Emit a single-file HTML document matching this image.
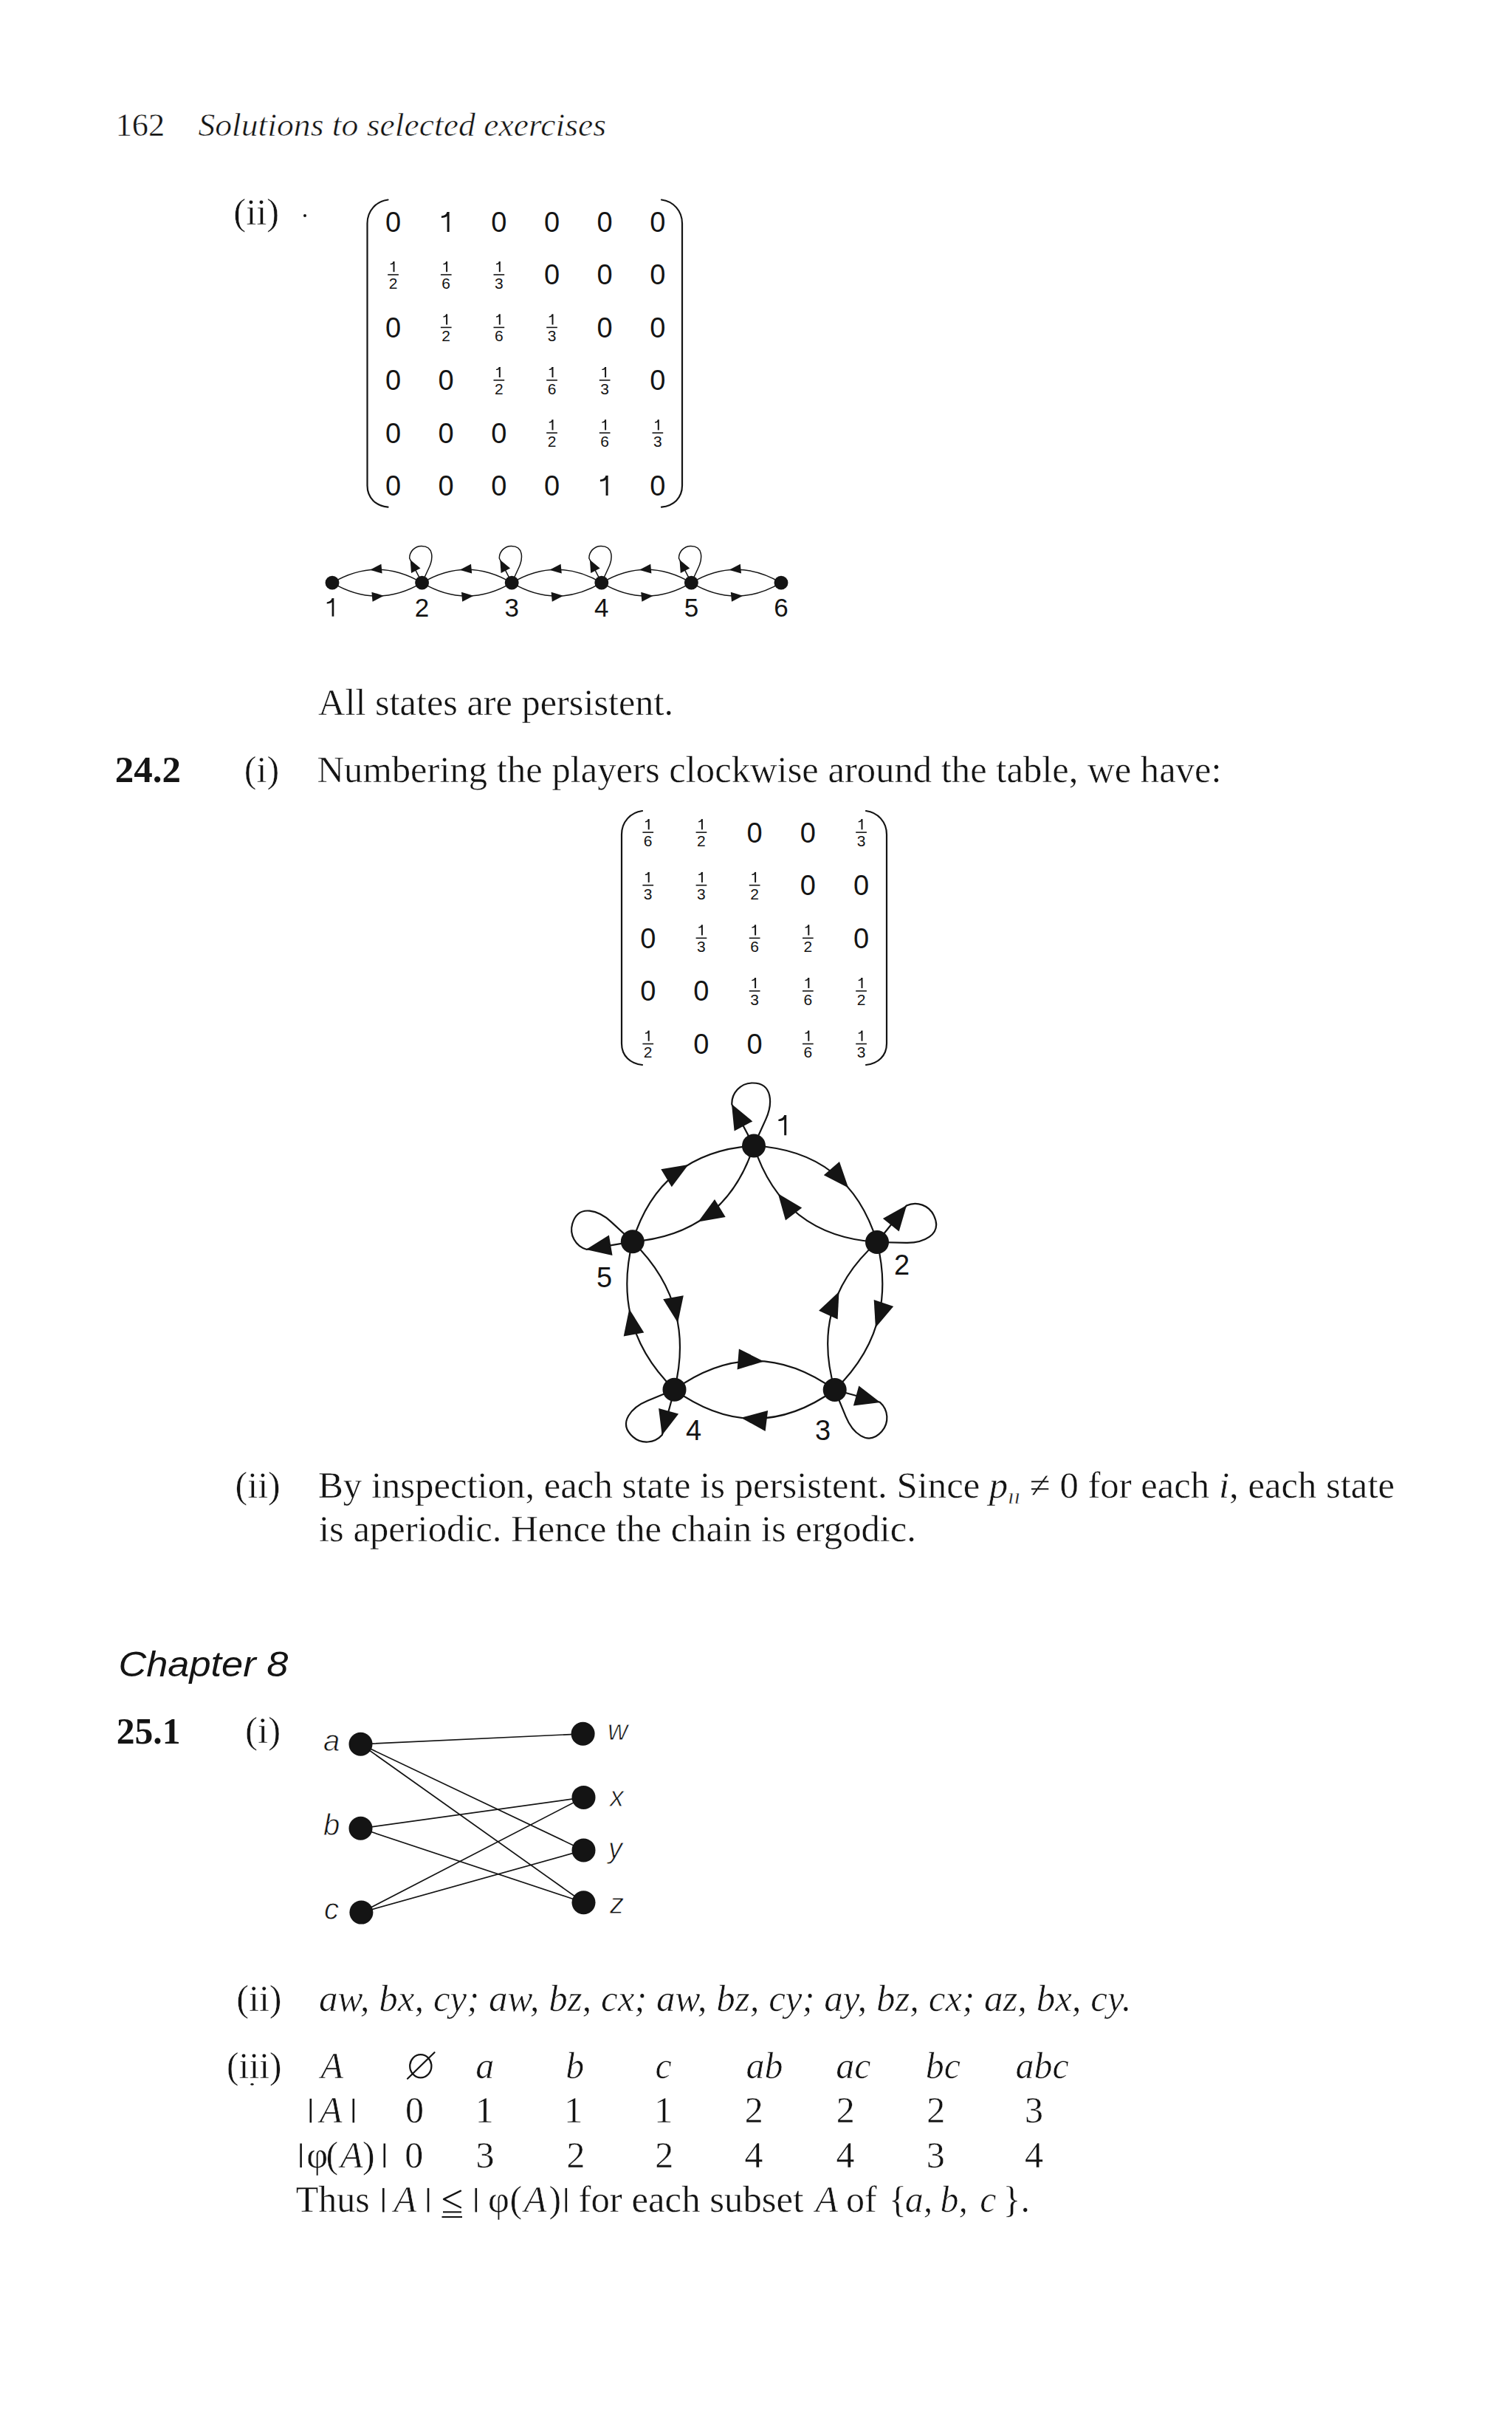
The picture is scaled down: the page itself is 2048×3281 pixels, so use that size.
<!DOCTYPE html>
<html><head><meta charset="utf-8"><title>Solutions to selected exercises</title>
<style>html,body{margin:0;padding:0;background:#fff;overflow:hidden;} svg{display:block;}</style></head>
<body><svg width="2048" height="3281" viewBox="0 0 2048 3281" fill="#141414">
<rect width="2048" height="3281" fill="#ffffff"/>
<text x="156.7" y="184" font-family="Liberation Serif" font-size="45" textLength="66.4" lengthAdjust="spacingAndGlyphs" stroke="#fff" stroke-width="0.45">162</text>
<text x="268.4" y="184" font-family="Liberation Serif" font-size="45" font-style="italic" textLength="552.6" lengthAdjust="spacingAndGlyphs" stroke="#fff" stroke-width="0.6">Solutions to selected exercises</text>
<text x="316.3" y="304" font-family="Liberation Serif" font-size="50" textLength="61.9" lengthAdjust="spacingAndGlyphs" stroke="#fff" stroke-width="0.45">(ii)</text>
<circle cx="413.0" cy="292.0" r="2" fill="#141414"/>
<text x="532.5" y="314.0" font-family="Liberation Sans" font-size="38" text-anchor="middle">0</text>
<rect x="605.6" y="287.0" width="3.0" height="27.0" fill="#141414"/>
<path d="M608.6,287.0 L605.6,287.0 C604.5,290.6 601.6,292.0 597.9,292.6 L597.9,295.0 C601.9,294.8 604.4,294.0 605.6,292.8 Z" fill="#141414"/>
<text x="675.8" y="314.0" font-family="Liberation Sans" font-size="38" text-anchor="middle">0</text>
<text x="747.5" y="314.0" font-family="Liberation Sans" font-size="38" text-anchor="middle">0</text>
<text x="819.1" y="314.0" font-family="Liberation Sans" font-size="38" text-anchor="middle">0</text>
<text x="890.8" y="314.0" font-family="Liberation Sans" font-size="38" text-anchor="middle">0</text>
<rect x="532.5" y="354.2" width="2.0" height="14.0" fill="#141414"/>
<path d="M534.5,354.2 L532.5,354.2 C532.2,356.1 530.6,356.8 528.7,357.1 L528.7,358.3 C530.8,358.2 532.0,357.8 532.5,357.2 Z" fill="#141414"/>
<rect x="525.2" y="371.2" width="14.7" height="1.6" fill="#141414"/>
<text x="532.5" y="390.8" font-family="Liberation Sans" font-size="21" text-anchor="middle">2</text>
<rect x="604.1" y="354.2" width="2.0" height="14.0" fill="#141414"/>
<path d="M606.1,354.2 L604.1,354.2 C603.8,356.1 602.3,356.8 600.4,357.1 L600.4,358.3 C602.5,358.2 603.7,357.8 604.1,357.2 Z" fill="#141414"/>
<rect x="596.9" y="371.2" width="14.7" height="1.6" fill="#141414"/>
<text x="604.1" y="390.8" font-family="Liberation Sans" font-size="21" text-anchor="middle">6</text>
<rect x="675.8" y="354.2" width="2.0" height="14.0" fill="#141414"/>
<path d="M677.8,354.2 L675.8,354.2 C675.5,356.1 673.9,356.8 672.0,357.1 L672.0,358.3 C674.1,358.2 675.3,357.8 675.8,357.2 Z" fill="#141414"/>
<rect x="668.5" y="371.2" width="14.7" height="1.6" fill="#141414"/>
<text x="675.8" y="390.8" font-family="Liberation Sans" font-size="21" text-anchor="middle">3</text>
<text x="747.5" y="385.4" font-family="Liberation Sans" font-size="38" text-anchor="middle">0</text>
<text x="819.1" y="385.4" font-family="Liberation Sans" font-size="38" text-anchor="middle">0</text>
<text x="890.8" y="385.4" font-family="Liberation Sans" font-size="38" text-anchor="middle">0</text>
<text x="532.5" y="456.8" font-family="Liberation Sans" font-size="38" text-anchor="middle">0</text>
<rect x="604.1" y="425.6" width="2.0" height="14.0" fill="#141414"/>
<path d="M606.1,425.6 L604.1,425.6 C603.8,427.5 602.3,428.2 600.4,428.5 L600.4,429.7 C602.5,429.6 603.7,429.2 604.1,428.6 Z" fill="#141414"/>
<rect x="596.9" y="442.6" width="14.7" height="1.6" fill="#141414"/>
<text x="604.1" y="462.2" font-family="Liberation Sans" font-size="21" text-anchor="middle">2</text>
<rect x="675.8" y="425.6" width="2.0" height="14.0" fill="#141414"/>
<path d="M677.8,425.6 L675.8,425.6 C675.5,427.5 673.9,428.2 672.0,428.5 L672.0,429.7 C674.1,429.6 675.3,429.2 675.8,428.6 Z" fill="#141414"/>
<rect x="668.5" y="442.6" width="14.7" height="1.6" fill="#141414"/>
<text x="675.8" y="462.2" font-family="Liberation Sans" font-size="21" text-anchor="middle">6</text>
<rect x="747.5" y="425.6" width="2.0" height="14.0" fill="#141414"/>
<path d="M749.5,425.6 L747.5,425.6 C747.1,427.5 745.6,428.2 743.7,428.5 L743.7,429.7 C745.8,429.6 747.0,429.2 747.5,428.6 Z" fill="#141414"/>
<rect x="740.2" y="442.6" width="14.7" height="1.6" fill="#141414"/>
<text x="747.5" y="462.2" font-family="Liberation Sans" font-size="21" text-anchor="middle">3</text>
<text x="819.1" y="456.8" font-family="Liberation Sans" font-size="38" text-anchor="middle">0</text>
<text x="890.8" y="456.8" font-family="Liberation Sans" font-size="38" text-anchor="middle">0</text>
<text x="532.5" y="528.2" font-family="Liberation Sans" font-size="38" text-anchor="middle">0</text>
<text x="604.1" y="528.2" font-family="Liberation Sans" font-size="38" text-anchor="middle">0</text>
<rect x="675.8" y="497.0" width="2.0" height="14.0" fill="#141414"/>
<path d="M677.8,497.0 L675.8,497.0 C675.5,498.9 673.9,499.6 672.0,499.9 L672.0,501.1 C674.1,501.0 675.3,500.6 675.8,500.0 Z" fill="#141414"/>
<rect x="668.5" y="514.0" width="14.7" height="1.6" fill="#141414"/>
<text x="675.8" y="533.6" font-family="Liberation Sans" font-size="21" text-anchor="middle">2</text>
<rect x="747.5" y="497.0" width="2.0" height="14.0" fill="#141414"/>
<path d="M749.5,497.0 L747.5,497.0 C747.1,498.9 745.6,499.6 743.7,499.9 L743.7,501.1 C745.8,501.0 747.0,500.6 747.5,500.0 Z" fill="#141414"/>
<rect x="740.2" y="514.0" width="14.7" height="1.6" fill="#141414"/>
<text x="747.5" y="533.6" font-family="Liberation Sans" font-size="21" text-anchor="middle">6</text>
<rect x="819.1" y="497.0" width="2.0" height="14.0" fill="#141414"/>
<path d="M821.1,497.0 L819.1,497.0 C818.8,498.9 817.2,499.6 815.3,499.9 L815.3,501.1 C817.4,501.0 818.6,500.6 819.1,500.0 Z" fill="#141414"/>
<rect x="811.8" y="514.0" width="14.7" height="1.6" fill="#141414"/>
<text x="819.1" y="533.6" font-family="Liberation Sans" font-size="21" text-anchor="middle">3</text>
<text x="890.8" y="528.2" font-family="Liberation Sans" font-size="38" text-anchor="middle">0</text>
<text x="532.5" y="599.6" font-family="Liberation Sans" font-size="38" text-anchor="middle">0</text>
<text x="604.1" y="599.6" font-family="Liberation Sans" font-size="38" text-anchor="middle">0</text>
<text x="675.8" y="599.6" font-family="Liberation Sans" font-size="38" text-anchor="middle">0</text>
<rect x="747.5" y="568.4" width="2.0" height="14.0" fill="#141414"/>
<path d="M749.5,568.4 L747.5,568.4 C747.1,570.3 745.6,571.0 743.7,571.3 L743.7,572.5 C745.8,572.4 747.0,572.0 747.5,571.4 Z" fill="#141414"/>
<rect x="740.2" y="585.4" width="14.7" height="1.6" fill="#141414"/>
<text x="747.5" y="605.0" font-family="Liberation Sans" font-size="21" text-anchor="middle">2</text>
<rect x="819.1" y="568.4" width="2.0" height="14.0" fill="#141414"/>
<path d="M821.1,568.4 L819.1,568.4 C818.8,570.3 817.2,571.0 815.3,571.3 L815.3,572.5 C817.4,572.4 818.6,572.0 819.1,571.4 Z" fill="#141414"/>
<rect x="811.8" y="585.4" width="14.7" height="1.6" fill="#141414"/>
<text x="819.1" y="605.0" font-family="Liberation Sans" font-size="21" text-anchor="middle">6</text>
<rect x="890.8" y="568.4" width="2.0" height="14.0" fill="#141414"/>
<path d="M892.8,568.4 L890.8,568.4 C890.4,570.3 888.9,571.0 887.0,571.3 L887.0,572.5 C889.1,572.4 890.3,572.0 890.8,571.4 Z" fill="#141414"/>
<rect x="883.5" y="585.4" width="14.7" height="1.6" fill="#141414"/>
<text x="890.8" y="605.0" font-family="Liberation Sans" font-size="21" text-anchor="middle">3</text>
<text x="532.5" y="671.0" font-family="Liberation Sans" font-size="38" text-anchor="middle">0</text>
<text x="604.1" y="671.0" font-family="Liberation Sans" font-size="38" text-anchor="middle">0</text>
<text x="675.8" y="671.0" font-family="Liberation Sans" font-size="38" text-anchor="middle">0</text>
<text x="747.5" y="671.0" font-family="Liberation Sans" font-size="38" text-anchor="middle">0</text>
<rect x="820.6" y="644.0" width="3.0" height="27.0" fill="#141414"/>
<path d="M823.6,644.0 L820.6,644.0 C819.5,647.6 816.6,649.0 812.9,649.6 L812.9,652.0 C816.9,651.8 819.3,651.0 820.6,649.8 Z" fill="#141414"/>
<text x="890.8" y="671.0" font-family="Liberation Sans" font-size="38" text-anchor="middle">0</text>
<path d="M525.5,270.5 C509.5,272.5 497.5,285.5 497.5,302.5 L497.5,657.6 C497.5,674.6 509.5,685.1 525.5,686.6" stroke="#141414" stroke-width="2.2" fill="none" stroke-linecap="round" stroke-linejoin="round"/>
<path d="M896,270.5 C912,272.5 924,285.5 924,302.5 L924,657.6 C924,674.6 912,685.1 896,686.6" stroke="#141414" stroke-width="2.2" fill="none" stroke-linecap="round" stroke-linejoin="round"/>
<path d="M571.6,789.2 Q510.8,753.2 450.0,789.2" stroke="#141414" stroke-width="1.5" fill="none" stroke-linecap="round" stroke-linejoin="round"/>
<path d="M501.1,771.7 L516.4,763.7 L517.6,776.6 Z" fill="#141414"/>
<path d="M450.0,789.2 Q510.8,825.2 571.6,789.2" stroke="#141414" stroke-width="1.5" fill="none" stroke-linecap="round" stroke-linejoin="round"/>
<path d="M519.9,806.8 L504.6,814.7 L503.4,801.7 Z" fill="#141414"/>
<path d="M693.2,789.2 Q632.4,753.2 571.6,789.2" stroke="#141414" stroke-width="1.5" fill="none" stroke-linecap="round" stroke-linejoin="round"/>
<path d="M622.7,771.7 L638.0,763.7 L639.2,776.6 Z" fill="#141414"/>
<path d="M571.6,789.2 Q632.4,825.2 693.2,789.2" stroke="#141414" stroke-width="1.5" fill="none" stroke-linecap="round" stroke-linejoin="round"/>
<path d="M641.5,806.8 L626.2,814.7 L625.0,801.7 Z" fill="#141414"/>
<path d="M814.8,789.2 Q754.0,753.2 693.2,789.2" stroke="#141414" stroke-width="1.5" fill="none" stroke-linecap="round" stroke-linejoin="round"/>
<path d="M744.3,771.7 L759.6,763.7 L760.8,776.6 Z" fill="#141414"/>
<path d="M693.2,789.2 Q754.0,825.2 814.8,789.2" stroke="#141414" stroke-width="1.5" fill="none" stroke-linecap="round" stroke-linejoin="round"/>
<path d="M763.1,806.8 L747.8,814.7 L746.6,801.7 Z" fill="#141414"/>
<path d="M936.4,789.2 Q875.6,753.2 814.8,789.2" stroke="#141414" stroke-width="1.5" fill="none" stroke-linecap="round" stroke-linejoin="round"/>
<path d="M865.9,771.7 L881.2,763.7 L882.4,776.6 Z" fill="#141414"/>
<path d="M814.8,789.2 Q875.6,825.2 936.4,789.2" stroke="#141414" stroke-width="1.5" fill="none" stroke-linecap="round" stroke-linejoin="round"/>
<path d="M884.7,806.8 L869.4,814.7 L868.2,801.7 Z" fill="#141414"/>
<path d="M1058.0,789.2 Q997.2,753.2 936.4,789.2" stroke="#141414" stroke-width="1.5" fill="none" stroke-linecap="round" stroke-linejoin="round"/>
<path d="M987.5,771.7 L1002.8,763.7 L1004.0,776.6 Z" fill="#141414"/>
<path d="M936.4,789.2 Q997.2,825.2 1058.0,789.2" stroke="#141414" stroke-width="1.5" fill="none" stroke-linecap="round" stroke-linejoin="round"/>
<path d="M1006.3,806.8 L991.0,814.7 L989.8,801.7 Z" fill="#141414"/>
<path d="M571.6,789.2 L554.7,756.0 A16.3,16.3 0 0 1 570.7,739.4 C587.8,739.1 586.7,756.7 581.3,768.3 L571.6,789.2" stroke="#141414" stroke-width="1.5" fill="none" stroke-linecap="round" stroke-linejoin="round"/>
<path d="M555.7,758.0 L569.5,769.5 L557.0,775.9 Z" fill="#141414"/>
<path d="M693.2,789.2 L676.3,756.0 A16.3,16.3 0 0 1 692.3,739.4 C709.4,739.1 708.3,756.7 702.9,768.3 L693.2,789.2" stroke="#141414" stroke-width="1.5" fill="none" stroke-linecap="round" stroke-linejoin="round"/>
<path d="M677.3,758.0 L691.1,769.5 L678.6,775.9 Z" fill="#141414"/>
<path d="M814.8,789.2 L797.9,756.0 A16.3,16.3 0 0 1 813.9,739.4 C831.0,739.1 829.9,756.7 824.5,768.3 L814.8,789.2" stroke="#141414" stroke-width="1.5" fill="none" stroke-linecap="round" stroke-linejoin="round"/>
<path d="M798.9,758.0 L812.7,769.5 L800.2,775.9 Z" fill="#141414"/>
<path d="M936.4,789.2 L919.5,756.0 A16.3,16.3 0 0 1 935.5,739.4 C952.6,739.1 951.5,756.7 946.1,768.3 L936.4,789.2" stroke="#141414" stroke-width="1.5" fill="none" stroke-linecap="round" stroke-linejoin="round"/>
<path d="M920.5,758.0 L934.3,769.5 L921.8,775.9 Z" fill="#141414"/>
<circle cx="450.0" cy="789.2" r="9.4" fill="#141414"/>
<circle cx="571.6" cy="789.2" r="9.4" fill="#141414"/>
<circle cx="693.2" cy="789.2" r="9.4" fill="#141414"/>
<circle cx="814.8" cy="789.2" r="9.4" fill="#141414"/>
<circle cx="936.4" cy="789.2" r="9.4" fill="#141414"/>
<circle cx="1058.0" cy="789.2" r="9.4" fill="#141414"/>
<rect x="449.6" y="810.3" width="2.7" height="24.4" fill="#141414"/>
<path d="M452.4,810.3 L449.6,810.3 C448.7,813.6 446.0,814.8 442.7,815.4 L442.7,817.5 C446.3,817.3 448.5,816.6 449.6,815.5 Z" fill="#141414"/>
<text x="571.6" y="835" font-family="Liberation Sans" font-size="35" text-anchor="middle">2</text>
<text x="693.2" y="835" font-family="Liberation Sans" font-size="35" text-anchor="middle">3</text>
<text x="814.8" y="835" font-family="Liberation Sans" font-size="35" text-anchor="middle">4</text>
<text x="936.4" y="835" font-family="Liberation Sans" font-size="35" text-anchor="middle">5</text>
<text x="1058.0" y="835" font-family="Liberation Sans" font-size="35" text-anchor="middle">6</text>
<text x="431.1" y="968" font-family="Liberation Serif" font-size="50" textLength="481.0" lengthAdjust="spacingAndGlyphs" stroke="#fff" stroke-width="0.45">All states are persistent.</text>
<text x="155.8" y="1058.5" font-family="Liberation Serif" font-size="50" font-weight="bold" textLength="89.3" lengthAdjust="spacingAndGlyphs">24.2</text>
<text x="330.7" y="1058.5" font-family="Liberation Serif" font-size="50" textLength="47.5" lengthAdjust="spacingAndGlyphs" stroke="#fff" stroke-width="0.45">(i)</text>
<text x="429.5" y="1058.5" font-family="Liberation Serif" font-size="50" textLength="1225.0" lengthAdjust="spacingAndGlyphs" stroke="#fff" stroke-width="0.45">Numbering the players clockwise around the table, we have:</text>
<rect x="877.7" y="1109.3" width="2.0" height="14.0" fill="#141414"/>
<path d="M879.7,1109.3 L877.7,1109.3 C877.4,1111.2 875.8,1111.9 873.9,1112.2 L873.9,1113.4 C876.0,1113.3 877.2,1112.9 877.7,1112.3 Z" fill="#141414"/>
<rect x="870.4" y="1126.3" width="14.7" height="1.6" fill="#141414"/>
<text x="877.7" y="1145.9" font-family="Liberation Sans" font-size="21" text-anchor="middle">6</text>
<rect x="949.9" y="1109.3" width="2.0" height="14.0" fill="#141414"/>
<path d="M951.9,1109.3 L949.9,1109.3 C949.6,1111.2 948.0,1111.9 946.1,1112.2 L946.1,1113.4 C948.2,1113.3 949.4,1112.9 949.9,1112.3 Z" fill="#141414"/>
<rect x="942.6" y="1126.3" width="14.7" height="1.6" fill="#141414"/>
<text x="949.9" y="1145.9" font-family="Liberation Sans" font-size="21" text-anchor="middle">2</text>
<text x="1022.1" y="1140.5" font-family="Liberation Sans" font-size="38" text-anchor="middle">0</text>
<text x="1094.3" y="1140.5" font-family="Liberation Sans" font-size="38" text-anchor="middle">0</text>
<rect x="1166.5" y="1109.3" width="2.0" height="14.0" fill="#141414"/>
<path d="M1168.5,1109.3 L1166.5,1109.3 C1166.2,1111.2 1164.6,1111.9 1162.7,1112.2 L1162.7,1113.4 C1164.8,1113.3 1166.0,1112.9 1166.5,1112.3 Z" fill="#141414"/>
<rect x="1159.2" y="1126.3" width="14.7" height="1.6" fill="#141414"/>
<text x="1166.5" y="1145.9" font-family="Liberation Sans" font-size="21" text-anchor="middle">3</text>
<rect x="877.7" y="1180.9" width="2.0" height="14.0" fill="#141414"/>
<path d="M879.7,1180.9 L877.7,1180.9 C877.4,1182.8 875.8,1183.5 873.9,1183.8 L873.9,1185.0 C876.0,1184.9 877.2,1184.5 877.7,1183.9 Z" fill="#141414"/>
<rect x="870.4" y="1197.9" width="14.7" height="1.6" fill="#141414"/>
<text x="877.7" y="1217.5" font-family="Liberation Sans" font-size="21" text-anchor="middle">3</text>
<rect x="949.9" y="1180.9" width="2.0" height="14.0" fill="#141414"/>
<path d="M951.9,1180.9 L949.9,1180.9 C949.6,1182.8 948.0,1183.5 946.1,1183.8 L946.1,1185.0 C948.2,1184.9 949.4,1184.5 949.9,1183.9 Z" fill="#141414"/>
<rect x="942.6" y="1197.9" width="14.7" height="1.6" fill="#141414"/>
<text x="949.9" y="1217.5" font-family="Liberation Sans" font-size="21" text-anchor="middle">3</text>
<rect x="1022.1" y="1180.9" width="2.0" height="14.0" fill="#141414"/>
<path d="M1024.1,1180.9 L1022.1,1180.9 C1021.8,1182.8 1020.2,1183.5 1018.3,1183.8 L1018.3,1185.0 C1020.4,1184.9 1021.6,1184.5 1022.1,1183.9 Z" fill="#141414"/>
<rect x="1014.8" y="1197.9" width="14.7" height="1.6" fill="#141414"/>
<text x="1022.1" y="1217.5" font-family="Liberation Sans" font-size="21" text-anchor="middle">2</text>
<text x="1094.3" y="1212.1" font-family="Liberation Sans" font-size="38" text-anchor="middle">0</text>
<text x="1166.5" y="1212.1" font-family="Liberation Sans" font-size="38" text-anchor="middle">0</text>
<text x="877.7" y="1283.7" font-family="Liberation Sans" font-size="38" text-anchor="middle">0</text>
<rect x="949.9" y="1252.5" width="2.0" height="14.0" fill="#141414"/>
<path d="M951.9,1252.5 L949.9,1252.5 C949.6,1254.4 948.0,1255.1 946.1,1255.4 L946.1,1256.6 C948.2,1256.5 949.4,1256.1 949.9,1255.5 Z" fill="#141414"/>
<rect x="942.6" y="1269.5" width="14.7" height="1.6" fill="#141414"/>
<text x="949.9" y="1289.1" font-family="Liberation Sans" font-size="21" text-anchor="middle">3</text>
<rect x="1022.1" y="1252.5" width="2.0" height="14.0" fill="#141414"/>
<path d="M1024.1,1252.5 L1022.1,1252.5 C1021.8,1254.4 1020.2,1255.1 1018.3,1255.4 L1018.3,1256.6 C1020.4,1256.5 1021.6,1256.1 1022.1,1255.5 Z" fill="#141414"/>
<rect x="1014.8" y="1269.5" width="14.7" height="1.6" fill="#141414"/>
<text x="1022.1" y="1289.1" font-family="Liberation Sans" font-size="21" text-anchor="middle">6</text>
<rect x="1094.3" y="1252.5" width="2.0" height="14.0" fill="#141414"/>
<path d="M1096.3,1252.5 L1094.3,1252.5 C1094.0,1254.4 1092.4,1255.1 1090.5,1255.4 L1090.5,1256.6 C1092.6,1256.5 1093.8,1256.1 1094.3,1255.5 Z" fill="#141414"/>
<rect x="1087.0" y="1269.5" width="14.7" height="1.6" fill="#141414"/>
<text x="1094.3" y="1289.1" font-family="Liberation Sans" font-size="21" text-anchor="middle">2</text>
<text x="1166.5" y="1283.7" font-family="Liberation Sans" font-size="38" text-anchor="middle">0</text>
<text x="877.7" y="1355.3" font-family="Liberation Sans" font-size="38" text-anchor="middle">0</text>
<text x="949.9" y="1355.3" font-family="Liberation Sans" font-size="38" text-anchor="middle">0</text>
<rect x="1022.1" y="1324.1" width="2.0" height="14.0" fill="#141414"/>
<path d="M1024.1,1324.1 L1022.1,1324.1 C1021.8,1326.0 1020.2,1326.7 1018.3,1327.0 L1018.3,1328.2 C1020.4,1328.1 1021.6,1327.7 1022.1,1327.1 Z" fill="#141414"/>
<rect x="1014.8" y="1341.1" width="14.7" height="1.6" fill="#141414"/>
<text x="1022.1" y="1360.7" font-family="Liberation Sans" font-size="21" text-anchor="middle">3</text>
<rect x="1094.3" y="1324.1" width="2.0" height="14.0" fill="#141414"/>
<path d="M1096.3,1324.1 L1094.3,1324.1 C1094.0,1326.0 1092.4,1326.7 1090.5,1327.0 L1090.5,1328.2 C1092.6,1328.1 1093.8,1327.7 1094.3,1327.1 Z" fill="#141414"/>
<rect x="1087.0" y="1341.1" width="14.7" height="1.6" fill="#141414"/>
<text x="1094.3" y="1360.7" font-family="Liberation Sans" font-size="21" text-anchor="middle">6</text>
<rect x="1166.5" y="1324.1" width="2.0" height="14.0" fill="#141414"/>
<path d="M1168.5,1324.1 L1166.5,1324.1 C1166.2,1326.0 1164.6,1326.7 1162.7,1327.0 L1162.7,1328.2 C1164.8,1328.1 1166.0,1327.7 1166.5,1327.1 Z" fill="#141414"/>
<rect x="1159.2" y="1341.1" width="14.7" height="1.6" fill="#141414"/>
<text x="1166.5" y="1360.7" font-family="Liberation Sans" font-size="21" text-anchor="middle">2</text>
<rect x="877.7" y="1395.7" width="2.0" height="14.0" fill="#141414"/>
<path d="M879.7,1395.7 L877.7,1395.7 C877.4,1397.6 875.8,1398.3 873.9,1398.6 L873.9,1399.8 C876.0,1399.7 877.2,1399.3 877.7,1398.7 Z" fill="#141414"/>
<rect x="870.4" y="1412.7" width="14.7" height="1.6" fill="#141414"/>
<text x="877.7" y="1432.3" font-family="Liberation Sans" font-size="21" text-anchor="middle">2</text>
<text x="949.9" y="1426.9" font-family="Liberation Sans" font-size="38" text-anchor="middle">0</text>
<text x="1022.1" y="1426.9" font-family="Liberation Sans" font-size="38" text-anchor="middle">0</text>
<rect x="1094.3" y="1395.7" width="2.0" height="14.0" fill="#141414"/>
<path d="M1096.3,1395.7 L1094.3,1395.7 C1094.0,1397.6 1092.4,1398.3 1090.5,1398.6 L1090.5,1399.8 C1092.6,1399.7 1093.8,1399.3 1094.3,1398.7 Z" fill="#141414"/>
<rect x="1087.0" y="1412.7" width="14.7" height="1.6" fill="#141414"/>
<text x="1094.3" y="1432.3" font-family="Liberation Sans" font-size="21" text-anchor="middle">6</text>
<rect x="1166.5" y="1395.7" width="2.0" height="14.0" fill="#141414"/>
<path d="M1168.5,1395.7 L1166.5,1395.7 C1166.2,1397.6 1164.6,1398.3 1162.7,1398.6 L1162.7,1399.8 C1164.8,1399.7 1166.0,1399.3 1166.5,1398.7 Z" fill="#141414"/>
<rect x="1159.2" y="1412.7" width="14.7" height="1.6" fill="#141414"/>
<text x="1166.5" y="1432.3" font-family="Liberation Sans" font-size="21" text-anchor="middle">3</text>
<path d="M870,1098 C854,1100 842,1113 842,1130 L842,1413 C842,1430 854,1440.5 870,1442" stroke="#141414" stroke-width="2.2" fill="none" stroke-linecap="round" stroke-linejoin="round"/>
<path d="M1173,1098 C1189,1100 1201,1113 1201,1130 L1201,1413 C1201,1430 1189,1440.5 1173,1442" stroke="#141414" stroke-width="2.2" fill="none" stroke-linecap="round" stroke-linejoin="round"/>
<path d="M1021.0,1551.5 Q1150.1,1558.4 1188.0,1682.0" stroke="#141414" stroke-width="2.2" fill="none" stroke-linecap="round" stroke-linejoin="round"/>
<path d="M1149.2,1608.6 L1115.8,1591.2 L1137.0,1572.9 Z" fill="#141414"/>
<path d="M1188.0,1682.0 Q1217.0,1798.5 1130.7,1882.0" stroke="#141414" stroke-width="2.2" fill="none" stroke-linecap="round" stroke-linejoin="round"/>
<path d="M1185.9,1797.7 L1183.7,1760.1 L1210.2,1769.0 Z" fill="#141414"/>
<path d="M1130.7,1882.0 Q1022.0,1959.9 913.5,1881.8" stroke="#141414" stroke-width="2.2" fill="none" stroke-linecap="round" stroke-linejoin="round"/>
<path d="M1003.6,1919.8 L1040.1,1910.1 L1036.6,1937.9 Z" fill="#141414"/>
<path d="M913.5,1881.8 Q827.4,1797.9 856.8,1681.3" stroke="#141414" stroke-width="2.2" fill="none" stroke-linecap="round" stroke-linejoin="round"/>
<path d="M852.3,1772.4 L872.3,1804.4 L844.7,1809.4 Z" fill="#141414"/>
<path d="M856.8,1681.3 Q894.2,1559.9 1021.0,1551.5" stroke="#141414" stroke-width="2.2" fill="none" stroke-linecap="round" stroke-linejoin="round"/>
<path d="M932.5,1577.1 L909.8,1607.2 L895.3,1583.2 Z" fill="#141414"/>
<path d="M1188.0,1682.0 Q1060.2,1673.5 1021.0,1551.5" stroke="#141414" stroke-width="2.2" fill="none" stroke-linecap="round" stroke-linejoin="round"/>
<path d="M1053.8,1616.2 L1086.2,1635.5 L1064.0,1652.5 Z" fill="#141414"/>
<path d="M1130.7,1882.0 Q1095.9,1763.8 1188.0,1682.0" stroke="#141414" stroke-width="2.2" fill="none" stroke-linecap="round" stroke-linejoin="round"/>
<path d="M1136.5,1749.0 L1134.6,1786.6 L1109.1,1774.8 Z" fill="#141414"/>
<path d="M913.5,1881.8 Q1022.2,1803.9 1130.7,1882.0" stroke="#141414" stroke-width="2.2" fill="none" stroke-linecap="round" stroke-linejoin="round"/>
<path d="M1034.6,1843.4 L998.6,1854.5 L1000.9,1826.6 Z" fill="#141414"/>
<path d="M856.8,1681.3 Q942.9,1765.2 913.5,1881.8" stroke="#141414" stroke-width="2.2" fill="none" stroke-linecap="round" stroke-linejoin="round"/>
<path d="M918.1,1791.2 L898.2,1759.2 L925.8,1754.3 Z" fill="#141414"/>
<path d="M1021.0,1551.5 Q982.3,1671.3 856.8,1681.3" stroke="#141414" stroke-width="2.2" fill="none" stroke-linecap="round" stroke-linejoin="round"/>
<path d="M945.6,1654.4 L968.0,1624.1 L982.7,1647.9 Z" fill="#141414"/>
<path d="M1021.0,1551.5 L991.3,1495.4 A28.0,28.0 0 0 1 1018.4,1466.5 C1047.8,1465.6 1046.2,1495.9 1037.3,1515.6 L1021.0,1551.5" stroke="#141414" stroke-width="2.2" fill="none" stroke-linecap="round" stroke-linejoin="round"/>
<path d="M991.0,1494.9 L1019.3,1518.4 L994.6,1531.5 Z" fill="#141414"/>
<path d="M1188.0,1682.0 L1227.8,1632.5 A28.0,28.0 0 0 1 1265.0,1646.1 C1277.5,1672.7 1249.1,1683.2 1227.4,1682.8 L1188.0,1682.0" stroke="#141414" stroke-width="2.2" fill="none" stroke-linecap="round" stroke-linejoin="round"/>
<path d="M1228.1,1632.1 L1217.7,1667.4 L1195.9,1649.9 Z" fill="#141414"/>
<path d="M1130.7,1882.0 L1191.9,1898.8 A28.0,28.0 0 0 1 1194.4,1938.3 C1174.9,1960.3 1153.9,1938.5 1145.7,1918.4 L1130.7,1882.0" stroke="#141414" stroke-width="2.2" fill="none" stroke-linecap="round" stroke-linejoin="round"/>
<path d="M1192.4,1898.9 L1155.9,1903.4 L1163.3,1876.4 Z" fill="#141414"/>
<path d="M913.5,1881.8 L896.8,1943.1 A28.0,28.0 0 0 1 857.3,1945.6 C835.2,1926.1 857.0,1905.1 877.1,1896.8 L913.5,1881.8" stroke="#141414" stroke-width="2.2" fill="none" stroke-linecap="round" stroke-linejoin="round"/>
<path d="M896.7,1943.5 L892.1,1907.1 L919.1,1914.4 Z" fill="#141414"/>
<path d="M856.8,1681.3 L794.2,1691.8 A28.0,28.0 0 0 1 775.3,1657.0 C783.7,1628.8 811.9,1639.8 827.9,1654.6 L856.8,1681.3" stroke="#141414" stroke-width="2.2" fill="none" stroke-linecap="round" stroke-linejoin="round"/>
<path d="M793.7,1691.9 L824.9,1672.5 L829.5,1700.1 Z" fill="#141414"/>
<circle cx="1021.0" cy="1551.5" r="16" fill="#141414"/>
<circle cx="1188.0" cy="1682.0" r="16" fill="#141414"/>
<circle cx="1130.7" cy="1882.0" r="16" fill="#141414"/>
<circle cx="913.5" cy="1881.8" r="16" fill="#141414"/>
<circle cx="856.8" cy="1681.3" r="16" fill="#141414"/>
<rect x="1062.2" y="1510.0" width="3.0" height="27.3" fill="#141414"/>
<path d="M1065.2,1510.0 L1062.2,1510.0 C1061.1,1513.6 1058.1,1515.1 1054.4,1515.7 L1054.4,1518.1 C1058.4,1517.9 1060.9,1517.1 1062.2,1515.9 Z" fill="#141414"/>
<text x="1211" y="1725.5" font-family="Liberation Sans" font-size="38">2</text>
<text x="1104" y="1950" font-family="Liberation Sans" font-size="38">3</text>
<text x="929" y="1950" font-family="Liberation Sans" font-size="38">4</text>
<text x="808" y="1742.5" font-family="Liberation Sans" font-size="38">5</text>
<text x="318.6" y="2027.5" font-family="Liberation Serif" font-size="50" textLength="61.1" lengthAdjust="spacingAndGlyphs" stroke="#fff" stroke-width="0.45">(ii)</text>
<text x="431" y="2027.5" font-family="Liberation Serif" font-size="50" textLength="1458" lengthAdjust="spacingAndGlyphs" stroke="#fff" stroke-width="0.45">By inspection, each state is persistent. Since <tspan font-style="italic">p</tspan><tspan font-style="italic" font-size="30" dy="8">ıı</tspan><tspan dy="-8"> ≠ 0 for each </tspan><tspan font-style="italic">i</tspan>, each state</text>
<text x="432.0" y="2087" font-family="Liberation Serif" font-size="50" textLength="809.0" lengthAdjust="spacingAndGlyphs" stroke="#fff" stroke-width="0.45">is aperiodic. Hence the chain is ergodic.</text>
<text x="160.4" y="2269.5" font-family="Liberation Sans" font-size="48.5" font-style="italic" textLength="229.9" lengthAdjust="spacingAndGlyphs">Chapter 8</text>
<text x="157.7" y="2360.8" font-family="Liberation Serif" font-size="50" font-weight="bold" textLength="86.8" lengthAdjust="spacingAndGlyphs">25.1</text>
<text x="332.1" y="2359.5" font-family="Liberation Serif" font-size="50" textLength="48.1" lengthAdjust="spacingAndGlyphs" stroke="#fff" stroke-width="0.45">(i)</text>
<path d="M488.5,2361.8 L789.6,2347.8" stroke="#141414" stroke-width="1.7" fill="none" stroke-linecap="round" stroke-linejoin="round"/>
<path d="M488.5,2361.8 L790.5,2505.4" stroke="#141414" stroke-width="1.7" fill="none" stroke-linecap="round" stroke-linejoin="round"/>
<path d="M488.5,2361.8 L790.5,2576.2" stroke="#141414" stroke-width="1.7" fill="none" stroke-linecap="round" stroke-linejoin="round"/>
<path d="M488.5,2475.8 L790.5,2433.9" stroke="#141414" stroke-width="1.7" fill="none" stroke-linecap="round" stroke-linejoin="round"/>
<path d="M488.5,2475.8 L790.5,2576.2" stroke="#141414" stroke-width="1.7" fill="none" stroke-linecap="round" stroke-linejoin="round"/>
<path d="M489.4,2589.6 L790.5,2433.9" stroke="#141414" stroke-width="1.7" fill="none" stroke-linecap="round" stroke-linejoin="round"/>
<path d="M489.4,2589.6 L790.5,2505.4" stroke="#141414" stroke-width="1.7" fill="none" stroke-linecap="round" stroke-linejoin="round"/>
<circle cx="488.5" cy="2361.8" r="16" fill="#141414"/>
<circle cx="488.5" cy="2475.8" r="16" fill="#141414"/>
<circle cx="489.4" cy="2589.6" r="16" fill="#141414"/>
<circle cx="789.6" cy="2347.8" r="16" fill="#141414"/>
<circle cx="790.5" cy="2433.9" r="16" fill="#141414"/>
<circle cx="790.5" cy="2505.4" r="16" fill="#141414"/>
<circle cx="790.5" cy="2576.2" r="16" fill="#141414"/>
<text x="438" y="2371" font-family="Liberation Sans" font-size="40" font-style="italic" stroke="#fff" stroke-width="0.8">a</text>
<text x="438" y="2485" font-family="Liberation Sans" font-size="40" font-style="italic" stroke="#fff" stroke-width="0.8">b</text>
<text x="439" y="2599" font-family="Liberation Sans" font-size="40" font-style="italic" stroke="#fff" stroke-width="0.8">c</text>
<text x="823" y="2356" font-family="Liberation Sans" font-size="38" font-style="italic" stroke="#fff" stroke-width="0.8">w</text>
<text x="826" y="2445.5" font-family="Liberation Sans" font-size="38" font-style="italic" stroke="#fff" stroke-width="0.8">x</text>
<text x="824" y="2516" font-family="Liberation Sans" font-size="38" font-style="italic" stroke="#fff" stroke-width="0.8">y</text>
<text x="826" y="2590.5" font-family="Liberation Sans" font-size="38" font-style="italic" stroke="#fff" stroke-width="0.8">z</text>
<text x="320.2" y="2723" font-family="Liberation Serif" font-size="50" textLength="61.4" lengthAdjust="spacingAndGlyphs" stroke="#fff" stroke-width="0.45">(ii)</text>
<text x="432.1" y="2723" font-family="Liberation Serif" font-size="50" font-style="italic" textLength="1100.5" lengthAdjust="spacingAndGlyphs" stroke="#fff" stroke-width="0.6">aw, bx, cy; aw, bz, cx; aw, bz, cy; ay, bz, cx; az, bx, cy.</text>
<text x="307.1" y="2814.2" font-family="Liberation Serif" font-size="50" textLength="74.4" lengthAdjust="spacingAndGlyphs" stroke="#fff" stroke-width="0.45">(iii)</text>
<ellipse cx="341.5" cy="2822.4" rx="2.2" ry="1.3" fill="#141414"/>
<text x="434.4" y="2814.2" font-family="Liberation Serif" font-size="50" font-style="italic" stroke="#fff" stroke-width="0.6">A</text>
<ellipse cx="569.8" cy="2797.7" rx="14.6" ry="15.6" fill="none" stroke="#141414" stroke-width="2.3"/>
<path d="M552,2814.7 L588.5,2779.2" stroke="#141414" stroke-width="2.2" fill="none" stroke-linecap="round" stroke-linejoin="round"/>
<text x="644.3" y="2814.2" font-family="Liberation Serif" font-size="50" font-style="italic" stroke="#fff" stroke-width="0.6">a</text>
<text x="766.3" y="2814.2" font-family="Liberation Serif" font-size="50" font-style="italic" stroke="#fff" stroke-width="0.6">b</text>
<text x="887.4" y="2814.2" font-family="Liberation Serif" font-size="50" font-style="italic" stroke="#fff" stroke-width="0.6">c</text>
<text x="1010.6" y="2814.2" font-family="Liberation Serif" font-size="50" font-style="italic" stroke="#fff" stroke-width="0.6">ab</text>
<text x="1132.3" y="2814.2" font-family="Liberation Serif" font-size="50" font-style="italic" stroke="#fff" stroke-width="0.6">ac</text>
<text x="1253.8" y="2814.2" font-family="Liberation Serif" font-size="50" font-style="italic" stroke="#fff" stroke-width="0.6">bc</text>
<text x="1375.4" y="2814.2" font-family="Liberation Serif" font-size="50" font-style="italic" stroke="#fff" stroke-width="0.6">abc</text>
<rect x="419.5" y="2841.8" width="2.6" height="32.5" fill="#141414"/>
<text x="433.1" y="2874.3" font-family="Liberation Serif" font-size="50" font-style="italic" stroke="#fff" stroke-width="0.6">A</text>
<rect x="477.5" y="2841.8" width="2.6" height="32.5" fill="#141414"/>
<text x="549.0" y="2874.3" font-family="Liberation Serif" font-size="50" stroke="#fff" stroke-width="0.45">0</text>
<text x="643.8" y="2874.3" font-family="Liberation Serif" font-size="50" stroke="#fff" stroke-width="0.45">1</text>
<text x="764.3" y="2874.3" font-family="Liberation Serif" font-size="50" stroke="#fff" stroke-width="0.45">1</text>
<text x="886.3" y="2874.3" font-family="Liberation Serif" font-size="50" stroke="#fff" stroke-width="0.45">1</text>
<text x="1008.8" y="2874.3" font-family="Liberation Serif" font-size="50" stroke="#fff" stroke-width="0.45">2</text>
<text x="1132.8" y="2874.3" font-family="Liberation Serif" font-size="50" stroke="#fff" stroke-width="0.45">2</text>
<text x="1255.2" y="2874.3" font-family="Liberation Serif" font-size="50" stroke="#fff" stroke-width="0.45">2</text>
<text x="1388.0" y="2874.3" font-family="Liberation Serif" font-size="50" stroke="#fff" stroke-width="0.45">3</text>
<rect x="406.3" y="2902.5" width="2.6" height="32.5" fill="#141414"/>
<text x="415.3" y="2935" font-family="Liberation Serif" font-size="50" stroke="#fff" stroke-width="0.45">φ</text>
<text x="441.4" y="2935" font-family="Liberation Serif" font-size="50" stroke="#fff" stroke-width="0.45">(</text>
<text x="460.9" y="2935" font-family="Liberation Serif" font-size="50" font-style="italic" stroke="#fff" stroke-width="0.6">A</text>
<text x="491.0" y="2935" font-family="Liberation Serif" font-size="50" stroke="#fff" stroke-width="0.45">)</text>
<rect x="519.5" y="2902.5" width="2.6" height="32.5" fill="#141414"/>
<text x="548.3" y="2935" font-family="Liberation Serif" font-size="50" stroke="#fff" stroke-width="0.45">0</text>
<text x="644.6" y="2935" font-family="Liberation Serif" font-size="50" stroke="#fff" stroke-width="0.45">3</text>
<text x="767.4" y="2935" font-family="Liberation Serif" font-size="50" stroke="#fff" stroke-width="0.45">2</text>
<text x="887.2" y="2935" font-family="Liberation Serif" font-size="50" stroke="#fff" stroke-width="0.45">2</text>
<text x="1008.4" y="2935" font-family="Liberation Serif" font-size="50" stroke="#fff" stroke-width="0.45">4</text>
<text x="1132.4" y="2935" font-family="Liberation Serif" font-size="50" stroke="#fff" stroke-width="0.45">4</text>
<text x="1254.8" y="2935" font-family="Liberation Serif" font-size="50" stroke="#fff" stroke-width="0.45">3</text>
<text x="1388.1" y="2935" font-family="Liberation Serif" font-size="50" stroke="#fff" stroke-width="0.45">4</text>
<text x="400.8" y="2995.4" font-family="Liberation Serif" font-size="50" stroke="#fff" stroke-width="0.45">Thus</text>
<rect x="518.0" y="2962.9" width="2.6" height="32.5" fill="#141414"/>
<text x="533.4" y="2995.4" font-family="Liberation Serif" font-size="50" font-style="italic" stroke="#fff" stroke-width="0.6">A</text>
<rect x="578.7" y="2962.9" width="2.6" height="32.5" fill="#141414"/>
<path d="M624,2966.6 L601,2977.9 L624,2989.2" stroke="#141414" stroke-width="2.3" fill="none" stroke-linecap="round" stroke-linejoin="round"/>
<rect x="600" y="2994.3" width="25" height="2.1" fill="#141414"/>
<rect x="598.5" y="3001.0" width="27.5" height="2.1" fill="#141414"/>
<rect x="643.5" y="2962.9" width="2.6" height="32.5" fill="#141414"/>
<text x="661.0" y="2995.4" font-family="Liberation Serif" font-size="50" stroke="#fff" stroke-width="0.45">φ</text>
<text x="690.5" y="2995.4" font-family="Liberation Serif" font-size="50" stroke="#fff" stroke-width="0.45">(</text>
<text x="709.8" y="2995.4" font-family="Liberation Serif" font-size="50" font-style="italic" stroke="#fff" stroke-width="0.6">A</text>
<text x="743.4" y="2995.4" font-family="Liberation Serif" font-size="50" stroke="#fff" stroke-width="0.45">)</text>
<rect x="765.5" y="2962.9" width="2.6" height="32.5" fill="#141414"/>
<text x="783.5" y="2995.4" font-family="Liberation Serif" font-size="50" textLength="304.8" lengthAdjust="spacingAndGlyphs" stroke="#fff" stroke-width="0.45">for each subset</text>
<text x="1104.5" y="2995.4" font-family="Liberation Serif" font-size="50" font-style="italic" stroke="#fff" stroke-width="0.6">A</text>
<text x="1146.1" y="2995.4" font-family="Liberation Serif" font-size="50" stroke="#fff" stroke-width="0.45">of</text>
<text x="1203.9" y="2995.4" font-family="Liberation Serif" font-size="50" stroke="#fff" stroke-width="0.45">{</text>
<text x="1225.8" y="2995.4" font-family="Liberation Serif" font-size="50" font-style="italic" stroke="#fff" stroke-width="0.6">a,</text>
<text x="1273.6" y="2995.4" font-family="Liberation Serif" font-size="50" font-style="italic" stroke="#fff" stroke-width="0.6">b,</text>
<text x="1327.3" y="2995.4" font-family="Liberation Serif" font-size="50" font-style="italic" stroke="#fff" stroke-width="0.6">c</text>
<text x="1358.5" y="2995.4" font-family="Liberation Serif" font-size="50" stroke="#fff" stroke-width="0.45">}.</text>
</svg></body></html>
